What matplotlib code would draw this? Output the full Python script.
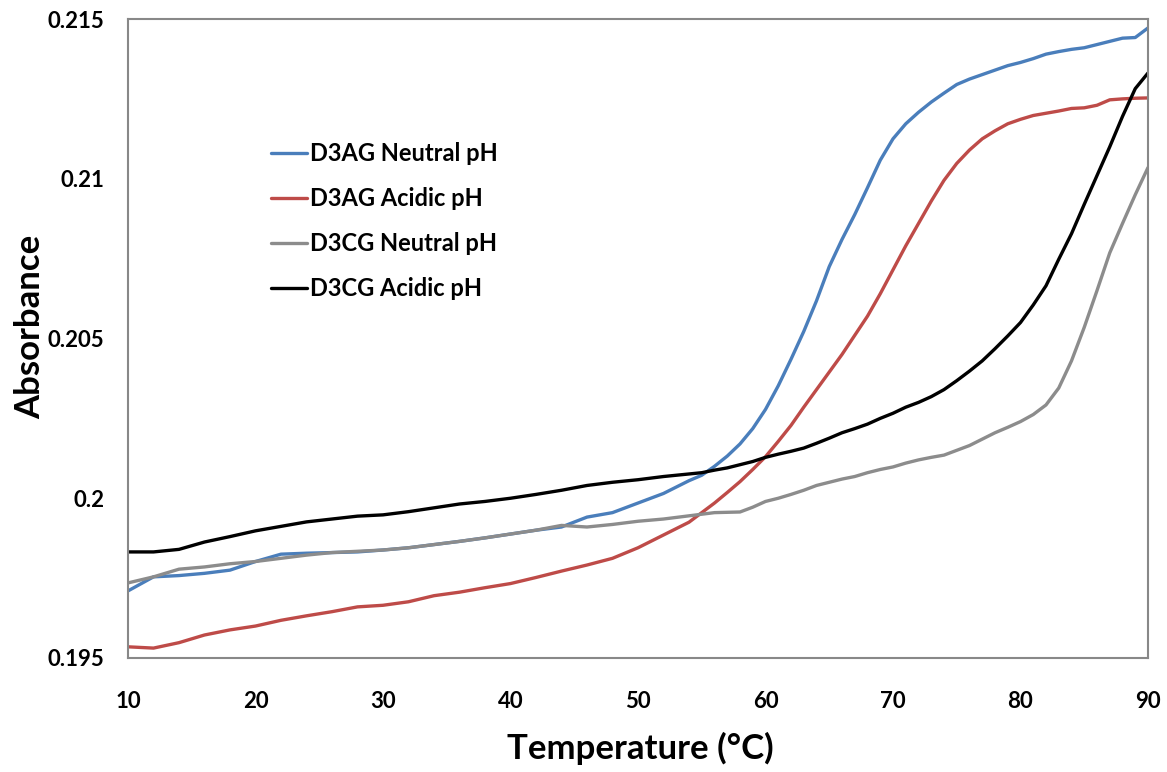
import matplotlib
matplotlib.use("Agg")
import matplotlib.pyplot as plt

plt.rcParams['font.family'] = ['Lato', 'DejaVu Sans']

temperature = [10, 12, 14, 16, 18, 20, 22, 24, 26, 28, 30, 32, 34, 36, 38, 40, 42, 44, 46, 48, 50, 52,
               54, 55, 56, 57, 58, 59, 60, 61, 62, 63, 64, 65, 66, 67, 68, 69, 70, 71, 72,
               73, 74, 75, 76, 77, 78, 79, 80, 81, 82, 83, 84, 85, 86, 87, 88, 89, 90]

d3ag_neutral = [0.19710, 0.19754, 0.19758, 0.19765, 0.19775, 0.19802, 0.19825, 0.19828, 0.19830, 0.19832,
                0.19838, 0.19845, 0.19855, 0.19865, 0.19876, 0.19888, 0.19900, 0.19910, 0.19941, 0.19955,
                0.19985, 0.20015,
                0.20055, 0.20072, 0.20100, 0.20132, 0.20170, 0.20218, 0.20278, 0.20352, 0.20435, 0.20522,
                0.20618, 0.20725, 0.20810, 0.20888, 0.20972, 0.21058, 0.21125, 0.21172, 0.21208,
                0.21240, 0.21268, 0.21295, 0.21312, 0.21326, 0.21340, 0.21354, 0.21364, 0.21376, 0.21390,
                0.21398, 0.21405, 0.21410, 0.21420, 0.21430, 0.21440, 0.21442, 0.21472]

d3ag_acidic = [0.19535, 0.19531, 0.19548, 0.19572, 0.19588, 0.19600, 0.19618, 0.19632, 0.19645, 0.19660,
               0.19665, 0.19676, 0.19695, 0.19706, 0.19720, 0.19733, 0.19752, 0.19772, 0.19791, 0.19812,
               0.19845, 0.19885,
               0.19925, 0.19955, 0.19985, 0.20018, 0.20052, 0.20090, 0.20130, 0.20178, 0.20228, 0.20285,
               0.20340, 0.20395, 0.20450, 0.20510, 0.20570, 0.20640, 0.20715, 0.20790, 0.20860,
               0.20930, 0.20995, 0.21048, 0.21090, 0.21125, 0.21150, 0.21172, 0.21186, 0.21198, 0.21205,
               0.21212, 0.21220, 0.21222, 0.21230, 0.21247, 0.21250, 0.21252, 0.21253]

d3cg_neutral = [0.19735, 0.19754, 0.19778, 0.19785, 0.19795, 0.19802, 0.19812, 0.19822, 0.19830, 0.19834,
                0.19838, 0.19845, 0.19855, 0.19865, 0.19876, 0.19888, 0.19900, 0.19915, 0.19910, 0.19918,
                0.19928, 0.19935,
                0.19945, 0.19950, 0.19955, 0.19956, 0.19957, 0.19972, 0.19990, 0.20000, 0.20012, 0.20025,
                0.20040, 0.20050, 0.20060, 0.20068, 0.20080, 0.20090, 0.20098, 0.20110, 0.20120,
                0.20128, 0.20135, 0.20150, 0.20165, 0.20185, 0.20205, 0.20222, 0.20240, 0.20262, 0.20292,
                0.20345, 0.20430, 0.20535, 0.20650, 0.20768, 0.20860, 0.20950, 0.21035]

d3cg_acidic = [0.19832, 0.19832, 0.19840, 0.19863, 0.19880, 0.19898, 0.19912, 0.19926, 0.19935, 0.19944,
               0.19948, 0.19958, 0.19970, 0.19982, 0.19990, 0.20000, 0.20012, 0.20025, 0.20040, 0.20050,
               0.20058, 0.20068,
               0.20076, 0.20080, 0.20088, 0.20095, 0.20105, 0.20115, 0.20128, 0.20138, 0.20147, 0.20157,
               0.20172, 0.20188, 0.20205, 0.20218, 0.20232, 0.20250, 0.20266, 0.20285, 0.20300,
               0.20318, 0.20340, 0.20368, 0.20398, 0.20430, 0.20468, 0.20508, 0.20550, 0.20605, 0.20665,
               0.20748, 0.20828, 0.20920, 0.21010, 0.21100, 0.21195, 0.21282, 0.21331]

series_labels = ["D3AG Neutral pH", "D3AG Acidic pH", "D3CG Neutral pH", "D3CG Acidic pH"]
x_ticks = [10, 20, 30, 40, 50, 60, 70, 80, 90]
y_ticks = [0.195, 0.2, 0.205, 0.21, 0.215]
y_tick_labels = ["0.195", "0.2", "0.205", "0.21", "0.215"]

colors = ["#4A7EBB", "#BE4B48", "#8C8C8C", "#000000"]

fig = plt.figure(figsize=(11.67, 7.72), dpi=100)
ax = fig.add_axes([128 / 1167, 1 - 658 / 772, (1148 - 128) / 1167, (658 - 19) / 772])

for ys, lab, c in zip([d3ag_neutral, d3ag_acidic, d3cg_neutral, d3cg_acidic], series_labels, colors):
    ax.plot(temperature, ys, color=c, lw=2.4, label=lab, solid_joinstyle='round',
            solid_capstyle='round')

ax.set_xlim(10, 90)
ax.set_ylim(0.195, 0.215)
ax.set_xticks(x_ticks)
ax.set_xticklabels([str(t) for t in x_ticks])
ax.set_yticks(y_ticks)
ax.set_yticklabels(y_tick_labels)
ax.tick_params(axis='both', length=0, labelsize=16)
ax.tick_params(axis='x', pad=24)
ax.tick_params(axis='y', pad=17)
for lbl in ax.get_xticklabels() + ax.get_yticklabels():
    lbl.set_fontweight('bold')

for sp in ax.spines.values():
    sp.set_color('#888888')
    sp.set_linewidth(1.5)

fig.text(30 / 1167, 1 - 327 / 772, "Absorbance", rotation=90, ha='center', va='center',
         fontsize=25, fontweight='bold')
fig.text(640 / 1167, 1 - 748 / 772, "Temperature (°C)", ha='center', va='center',
         fontsize=25, fontweight='bold')

leg = ax.legend(loc='upper left', bbox_to_anchor=((262 - 128) / 1020, (658 - 133) / 639),
                frameon=False, fontsize=17, handlelength=1.5, handletextpad=0.15,
                labelspacing=0.93, borderaxespad=0)
for t in leg.get_texts():
    t.set_fontweight('bold')

fig.savefig("out.png", dpi=100)
